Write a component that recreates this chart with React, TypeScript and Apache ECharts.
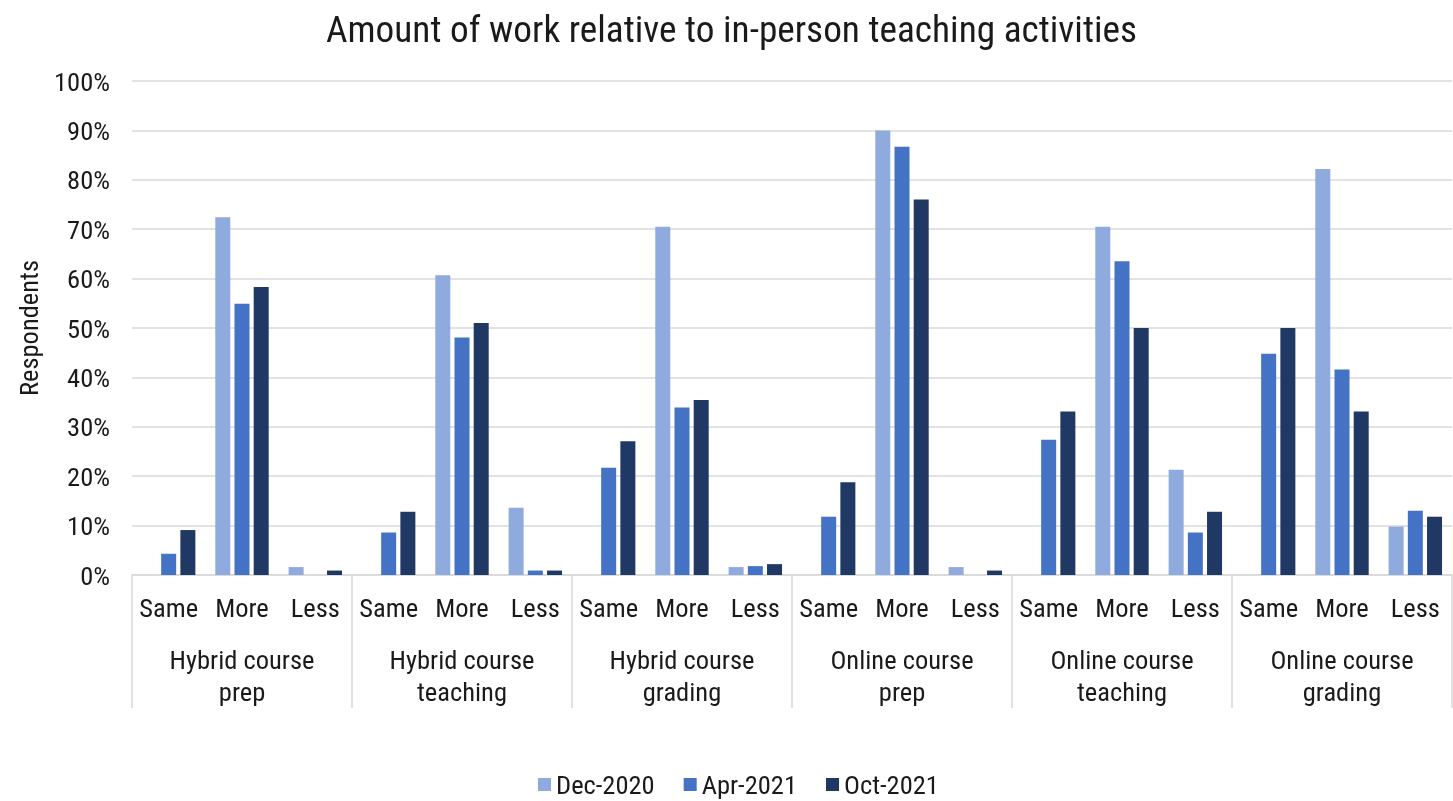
import React, { useEffect, useRef } from "react";
import * as echarts from "echarts";

const groups = [
  "Hybrid course\nprep",
  "Hybrid course\nteaching",
  "Hybrid course\ngrading",
  "Online course\nprep",
  "Online course\nteaching",
  "Online course\ngrading",
];
const answers = ["Same", "More", "Less"];
const categories = groups.flatMap(() => answers);

const seriesNames = ["Dec-2020", "Apr-2021", "Oct-2021"];
const dec2020 = [0, 72.4, 1.6, 0, 60.7, 13.6, 0, 70.5, 1.6, 0, 90.0, 1.6, 0, 70.5, 21.3, 0, 82.2, 9.8];
const apr2021 = [4.3, 54.9, 0, 8.6, 48.1, 0.9, 21.7, 33.9, 1.8, 11.8, 86.7, 0, 27.4, 63.5, 8.6, 44.8, 41.6, 13.0];
const oct2021 = [9.1, 58.3, 0.9, 12.8, 51.0, 0.9, 27.1, 35.4, 2.2, 18.8, 76.0, 0.9, 33.1, 50.0, 12.8, 50.0, 33.1, 11.8];
const colors = ["#8faadc", "#4472c4", "#203864"];

const yTicks = [0, 10, 20, 30, 40, 50, 60, 70, 80, 90, 100];

const FONT = "'Roboto Condensed', 'Liberation Sans Narrow', 'DejaVu Sans Condensed', Roboto, sans-serif";
const TEXT = "#1a1a1a";
const FS = 26.5;

export default function App() {
  const ref = useRef<HTMLDivElement>(null);
  useEffect(() => {
    if (!ref.current) return;
    const chart = echarts.init(ref.current, undefined, { renderer: "svg" });
    const values = [dec2020, apr2021, oct2021];
    chart.setOption({
      animation: false,
      textStyle: { fontFamily: FONT },
      title: {
        text: "Amount of work relative to in-person teaching activities",
        left: 321,
        top: 5,
        textStyle: { fontFamily: FONT, fontSize: 37.3, fontWeight: "normal", color: TEXT },
      },
      legend: {
        data: seriesNames,
        top: 771,
        left: 538,
        padding: 0,
        itemWidth: 13,
        itemHeight: 13,
        itemGap: 29,
        icon: "rect",
        textStyle: { fontFamily: FONT, fontSize: FS, lineHeight: 26, color: TEXT },
      },
      grid: { left: 132, right: 1, top: 81, bottom: 226, containLabel: false },
      xAxis: [
        {
          type: "category",
          data: categories,
          position: "bottom",
          axisLine: { show: true, lineStyle: { color: "#d9d9d9", width: 1.5 } },
          axisTick: { show: false },
          axisLabel: { interval: 0, fontSize: FS, color: TEXT, margin: 19, fontFamily: FONT },
        },
        {
          type: "category",
          data: groups,
          position: "bottom",
          axisLine: { show: false },
          axisTick: { show: true, length: 133, lineStyle: { color: "#d9d9d9", width: 1.5 } },
          axisLabel: { interval: 0, fontSize: FS, color: TEXT, margin: 68, lineHeight: 32, fontFamily: FONT },
        },
      ],
      yAxis: {
        type: "value",
        min: yTicks[0],
        max: yTicks[yTicks.length - 1],
        interval: 10,
        name: "Respondents",
        nameLocation: "middle",
        nameRotate: 90,
        nameGap: 90,
        nameTextStyle: { fontFamily: FONT, fontSize: FS, color: TEXT },
        axisLabel: { formatter: "{value}%", fontSize: FS, color: TEXT, margin: 22, fontFamily: FONT },
        splitLine: { lineStyle: { color: "#d9d9d9", width: 1.5 } },
        axisLine: { show: false },
        axisTick: { show: false },
      },
      series: seriesNames.map((name, i) => ({
        name,
        type: "bar",
        xAxisIndex: 0,
        data: values[i],
        barWidth: 15,
        barGap: "28%",
        itemStyle: { color: colors[i] },
      })),
    });
    return () => chart.dispose();
  }, []);
  return <div ref={ref} style={{ position: "fixed", left: 0, top: 0, width: 1453, height: 801 }} />;
}
